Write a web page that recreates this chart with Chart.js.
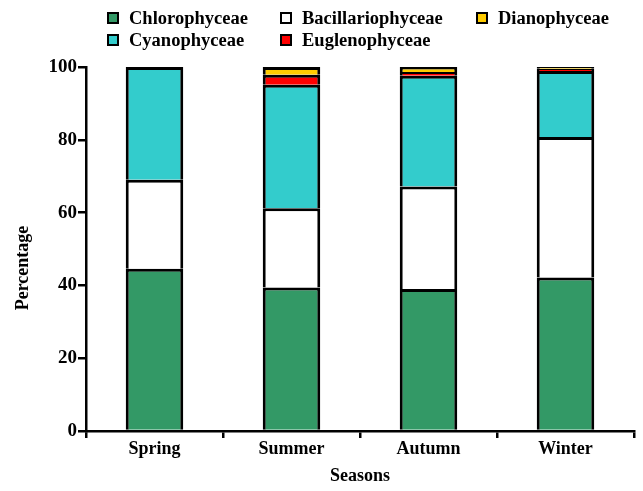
<!DOCTYPE html>
<html>
<head>
<meta charset="utf-8">
<script src="https://cdn.jsdelivr.net/npm/chart.js@4/dist/chart.umd.min.js"></script>
<style>
  html, body { margin: 0; padding: 0; background: #fff; }
  #wrap { width: 643px; height: 491px; position: relative; }
</style>
</head>
<body>
<div id="wrap"><canvas id="c" width="643" height="491"></canvas></div>
<script>
// Seasonal composition of phytoplankton classes (percentage)
const seasons = ['Spring', 'Summer', 'Autumn', 'Winter'];
const chlorophyceae     = [44.6, 39.4, 39.0, 42.2];
const bacillariophyceae = [24.4, 21.8, 28.2, 38.6];
const cyanophyceae      = [31.0, 33.9, 30.4, 18.1];
const euglenophyceae    = [0.0, 2.8, 1.0, 0.6];
const dianophyceae      = [0.0, 2.1, 1.4, 0.5];
const yTicks = [0, 20, 40, 60, 80, 100];

const FONT = '"Liberation Serif", "Times New Roman", serif';

const series = [
  { label: 'Chlorophyceae',     data: chlorophyceae,     color: '#339966' },
  { label: 'Bacillariophyceae', data: bacillariophyceae, color: '#ffffff' },
  { label: 'Cyanophyceae',      data: cyanophyceae,      color: '#33cccc' },
  { label: 'Euglenophyceae',    data: euglenophyceae,    color: '#ff0000' },
  { label: 'Dianophyceae',      data: dianophyceae,      color: '#ffcc00' }
];

// legend laid out column by column in two rows
const legendOrder = ['Chlorophyceae', 'Cyanophyceae', 'Bacillariophyceae', 'Euglenophyceae', 'Dianophyceae'];
const legendCols = [108, 281, 477];
const legendRows = [18, 40];

const gridLegend = {
  id: 'gridLegend',
  afterDraw(chart) {
    const ctx = chart.ctx;
    ctx.save();
    ctx.font = 'bold 18.5px ' + FONT;
    ctx.textBaseline = 'middle';
    ctx.textAlign = 'left';
    legendOrder.forEach((name, i) => {
      const ds = chart.data.datasets.find(d => d.label === name);
      const x = legendCols[Math.floor(i / 2)];
      const y = legendRows[i % 2];
      ctx.fillStyle = ds.backgroundColor;
      ctx.fillRect(x, y - 5, 10, 10);
      ctx.lineWidth = 2;
      ctx.strokeStyle = '#000';
      ctx.strokeRect(x, y - 5, 10, 10);
      ctx.fillStyle = '#000';
      ctx.fillText(name, x + 21, y + 1);
    });
    // vertical axis title, placed beside the axis
    ctx.translate(23, 268);
    ctx.rotate(-Math.PI / 2);
    ctx.textAlign = 'center';
    ctx.font = 'bold 18px ' + FONT;
    ctx.fillText('Percentage', 0, 0);
    ctx.restore();
  }
};

new Chart(document.getElementById('c'), {
  type: 'bar',
  data: {
    labels: seasons,
    datasets: series.map(s => ({
      label: s.label,
      data: s.data,
      backgroundColor: s.color,
      borderColor: '#000',
      borderWidth: 3,
      borderSkipped: 'start',
      inflateAmount: 0,
      categoryPercentage: 1.0,
      barPercentage: 0.42
    }))
  },
  options: {
    responsive: false,
    animation: false,
    layout: { padding: { top: 67, right: 9, left: 0, bottom: 0 } },
    plugins: { legend: { display: false }, tooltip: { enabled: false } },
    scales: {
      x: {
        stacked: true,
        offset: true,
        border: { display: true, color: '#000', width: 2.5 },
        grid: { display: true, drawOnChartArea: false, color: '#000', lineWidth: 2.5, tickLength: 7, offset: true },
        ticks: { color: '#000', font: { family: FONT, size: 18, weight: 'bold' }, padding: 1 },
        title: { display: true, text: 'Seasons', color: '#000', font: { family: FONT, size: 18, weight: 'bold' }, padding: { top: 2 } },
        afterFit(scale) { scale.height = 60; }
      },
      y: {
        stacked: true,
        min: 0,
        max: 100,
        afterBuildTicks(scale) { scale.ticks = yTicks.map(v => ({ value: v })); },
        border: { display: true, color: '#000', width: 2.5 },
        grid: { display: true, drawOnChartArea: false, color: '#000', lineWidth: 2.5, tickLength: 8 },
        ticks: { color: '#000', font: { family: FONT, size: 19, weight: 'bold' }, padding: 1 },
        title: { display: false },
        afterFit(scale) { scale.width = 86; }
      }
    }
  },
  plugins: [gridLegend]
});
</script>
</body>
</html>
